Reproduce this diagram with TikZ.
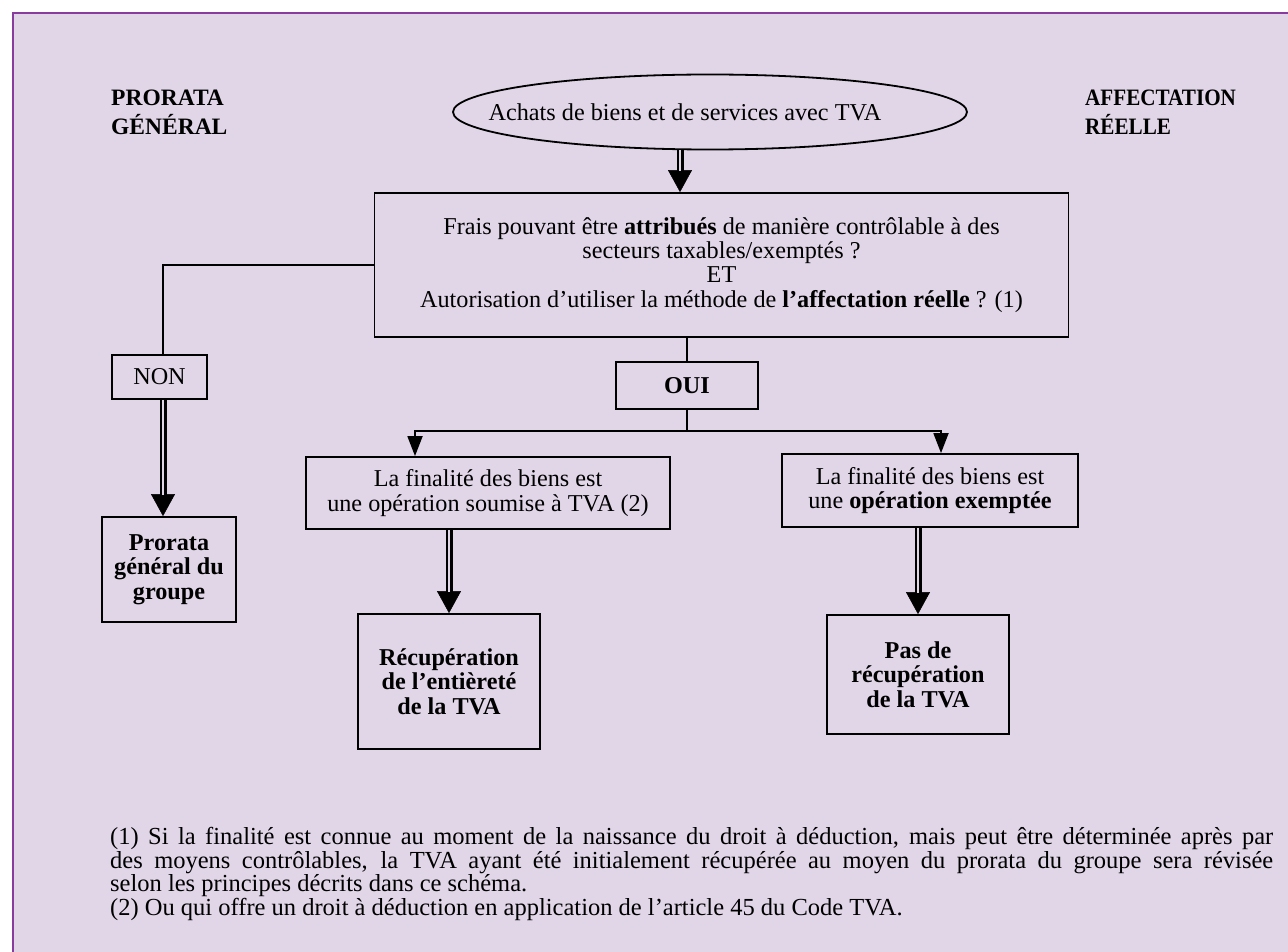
\documentclass[tikz,border=0pt]{standalone}
\usepackage{fontspec}
\setmainfont{Liberation Serif}
\usetikzlibrary{shapes.geometric,arrows.meta}
\definecolor{bgc}{HTML}{E1D6E8}
\definecolor{framec}{HTML}{8A3C9E}
\begin{document}
\begin{tikzpicture}[x=1pt,y=-1pt,
  every node/.style={font=\fontsize{24.2}{24.3}\selectfont},
  box/.style={draw, line width=1.8pt, rectangle, inner sep=0pt, align=center},
  bbox/.style={box, font=\bfseries\fontsize{24.2}{24.3}\selectfont},
  heading/.style={anchor=west, inner sep=0pt, align=left, font=\bfseries\fontsize{23.5}{29}\selectfont},
  link/.style={draw, line width=1.8pt},
  arr/.style={draw, line width=1.8pt, -{Triangle[width=15pt,length=20pt]}},
  dbl/.style={draw, line width=0.5pt, -{Triangle[width=24pt,length=22pt]},
    postaction={draw, -, line width=2.2pt, double=bgc, double distance=2.6pt, shorten >=21pt}}]
\useasboundingbox (0,0) rectangle (1288,952);
\fill[white] (0,0) rectangle (1288,952);
\draw[framec, line width=2.5pt, fill=bgc] (13,13) rectangle (1310,975);

% headings
\node[heading] (hl) at (111,112) {PRORATA\\GÉNÉRAL};
\node[heading] (hr) at (1085,112) {\scalebox{0.9}[1]{AFFECTATION}\\\scalebox{0.9}[1]{RÉELLE}};

% nodes
\node[ellipse, draw, line width=1.8pt, minimum width=514pt, minimum height=75pt, inner sep=0pt] (ell) at (710,112)
  {\hspace*{-50pt}Achats de biens et de services avec TVA};
\node[box, minimum width=694pt, minimum height=144pt] (main) at (721.5,265)
  {Frais pouvant être \textbf{attribués} de manière contrôlable à des\\
   secteurs taxables/exemptés ?\\ ET\\
   Autorisation d’utiliser la méthode de \textbf{l’affectation réelle} ? (1)};
\node[box, minimum width=95pt, minimum height=44pt] (non) at (159.5,377) {NON};
\node[bbox, minimum width=134pt, minimum height=105pt] (pro) at (169,569.5) {Prorata\\général du\\groupe};
\node[bbox, minimum width=142pt, minimum height=47pt] (oui) at (687,385.5) {OUI};
\node[box, minimum width=364pt, minimum height=72pt] (lb) at (488,493)
  {La finalité des biens est\\une opération soumise à TVA (2)};
\node[box, minimum width=296pt, minimum height=73pt] (rb) at (930,490.5)
  {La finalité des biens est\\une \textbf{opération exemptée}};
\node[bbox, minimum width=182pt, minimum height=135pt] (rec) at (449,681.5)
  {Récupération\\de l’entièreté\\de la TVA};
\node[bbox, minimum width=182pt, minimum height=119pt] (pas) at (918,674.5)
  {Pas de\\récupération\\de la TVA};

% helper coordinates
\coordinate (c1) at (680,0);
\coordinate (c2) at (163,0);
\coordinate (j) at (687,431);
\coordinate (cl) at (415,0);
\coordinate (cr) at (941,0);

% connectors
\draw[dbl] (ell.south -| c1) -- (main.north -| c1);
\draw[link] (main.west) -| (non.north -| c2);
\draw[dbl] (non.south -| c2) -- (pro.north -| c2);
\draw[link] (oui.north |- main.south) -- (oui.north);
\draw[link] (oui.south) -- (j);
\draw[arr] (j) -| (lb.north -| cl);
\draw[arr] (j) -| (rb.north -| cr);
\draw[dbl] (rec.north |- lb.south) -- (rec.north);
\draw[dbl] (pas.north |- rb.south) -- (pas.north);

% footnotes
\node[anchor=north west, inner sep=0pt, align=left,
  font=\fontsize{24.5}{23.6}\selectfont] (fn) at (110,827)
  {\makebox[1163pt][s]{(1) Si la finalité est connue au moment de la naissance du droit à déduction, mais peut être déterminée après par}\\
   \makebox[1163pt][s]{des moyens contrôlables, la TVA ayant été initialement récupérée au moyen du prorata du groupe sera révisée}\\
   selon les principes décrits dans ce schéma.\\
   (2) Ou qui offre un droit à déduction en application de l’article 45 du Code TVA.};
\end{tikzpicture}
\end{document}
